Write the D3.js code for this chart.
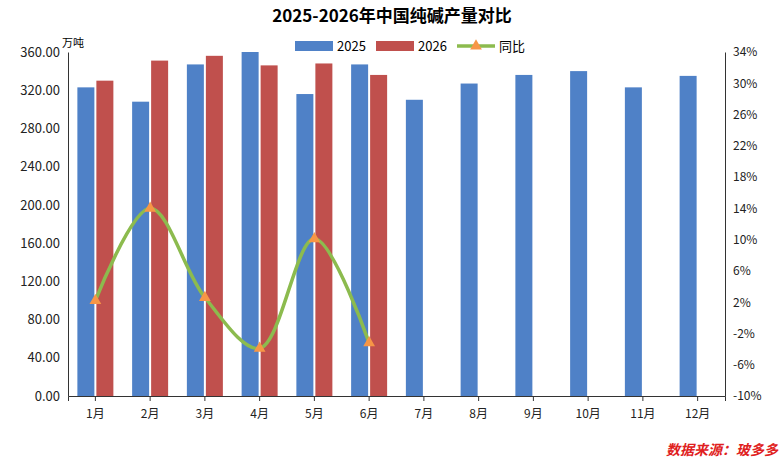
<!DOCTYPE html>
<html><head><meta charset="utf-8">
<script src="https://cdn.jsdelivr.net/npm/d3@7"></script>
<style>body{margin:0;background:#fff}</style></head>
<body><svg id="c" width="784" height="463"></svg>
<script>
const months=["1月","2月","3月","4月","5月","6月","7月","8月","9月","10月","11月","12月"];
const v2025=[323,308,347,360,316,347,310,327,336,340,323,335];
const v2026=[330,351,356,346,348,336];
const yoy=[2.2,14.0,2.6,-3.9,10.1,-3.2];
const leftTicks=[0,40,80,120,160,200,240,280,320,360];
const rightTicks=[-10,-6,-2,2,6,10,14,18,22,26,30,34];

const svg=d3.select("#c");
const L=68,R=725,T=52,B=396;
const x=d3.scaleBand().domain(months).range([L,R]);
const y=d3.scaleLinear().domain([0,360]).range([B,T]);
const y2=d3.scaleLinear().domain([-10,34]).range([B,T]);
const font="'Noto Sans CJK SC', sans-serif";

svg.append("text").attr("x",392).attr("y",22).attr("text-anchor","middle")
 .style("font-family",font).style("font-size","17px").style("font-weight","bold").text("2025-2026年中国纯碱产量对比");

const ga=svg.append("g").attr("transform",`translate(${L},0)`).call(d3.axisLeft(y).tickValues(leftTicks).tickFormat(d3.format(".2f")).tickSize(0).tickPadding(8));
ga.select(".domain").attr("stroke","#333");
ga.selectAll("text").style("font-family",font).style("font-size","13px").attr("fill","#222");
const gr=svg.append("g").attr("transform",`translate(${R},0)`).call(d3.axisRight(y2).tickValues(rightTicks).tickFormat(d=>d+"%").tickSize(0).tickPadding(8));
gr.select(".domain").attr("stroke","#333");
gr.selectAll("text").style("font-family",font).style("font-size","12px").attr("fill","#222");
const gx=svg.append("g").attr("transform",`translate(0,${B})`).call(d3.axisBottom(x).tickSize(5).tickPadding(8));
gx.select(".domain").attr("stroke","#333");
gx.selectAll("line").attr("stroke","#333");
gx.selectAll("text").style("font-family",font).style("font-size","12px").attr("fill","#222");

svg.append("text").attr("x",62).attr("y",47).style("font-family",font).style("font-size","11px").text("万吨");

const bw=17;
svg.selectAll(".b1").data(v2025).join("rect").attr("x",(d,i)=>x(months[i])+x.bandwidth()/2-bw-1).attr("width",bw)
 .attr("y",d=>y(d)).attr("height",d=>B-y(d)).attr("fill","#4f81c7");
svg.selectAll(".b2").data(v2026).join("rect").attr("x",(d,i)=>x(months[i])+x.bandwidth()/2+1).attr("width",bw)
 .attr("y",d=>y(d)).attr("height",d=>B-y(d)).attr("fill","#c0504d");

const cx=(i)=>x(months[i])+x.bandwidth()/2;
svg.append("path").datum(yoy).attr("fill","none").attr("stroke","#8cbb4e").attr("stroke-width",3.5)
 .attr("d",d3.line().x((d,i)=>cx(i)).y(d=>y2(d)).curve(d3.curveCatmullRom.alpha(0.5)));
svg.selectAll(".tri").data(yoy).join("path").attr("d",d3.symbol(d3.symbolTriangle,60))
 .attr("transform",(d,i)=>`translate(${cx(i)},${y2(d)})`).attr("fill","#f79646");

const lg=svg.append("g").style("font-family",font).style("font-size","13px");
lg.append("rect").attr("x",295).attr("y",41).attr("width",38).attr("height",10).attr("fill","#4f81c7");
lg.append("text").attr("x",337).attr("y",51).text("2025");
lg.append("rect").attr("x",376).attr("y",41).attr("width",38).attr("height",10).attr("fill","#c0504d");
lg.append("text").attr("x",418).attr("y",51).text("2026");
lg.append("line").attr("x1",457).attr("x2",495).attr("y1",46).attr("y2",46).attr("stroke","#8cbb4e").attr("stroke-width",3.5);
lg.append("path").attr("d",d3.symbol(d3.symbolTriangle,60)).attr("transform","translate(476,46)").attr("fill","#f79646");
lg.append("text").attr("x",499).attr("y",51).text("同比");

svg.append("text").attr("x",778).attr("y",455).attr("text-anchor","end").style("font-family",font)
 .style("font-size","14px").style("font-style","italic").style("font-weight","bold").attr("fill","#e02020").text("数据来源：玻多多");
</script></body></html>
